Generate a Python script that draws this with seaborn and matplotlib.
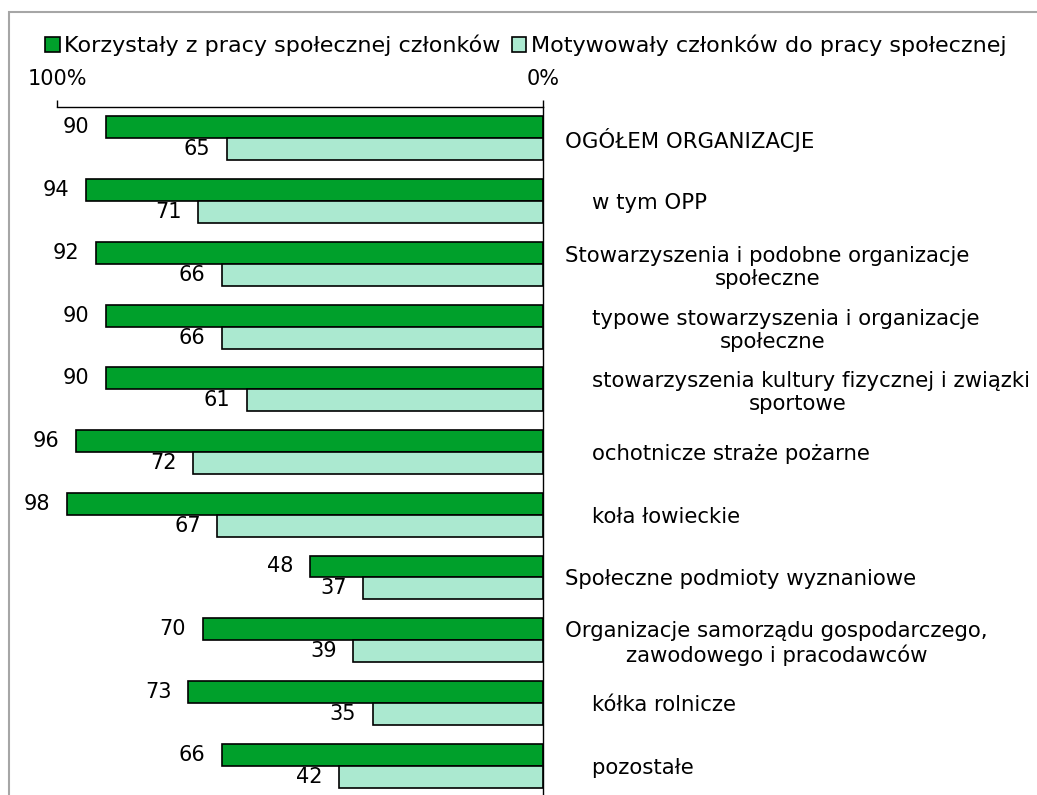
import matplotlib
matplotlib.use("Agg")
import matplotlib.pyplot as plt
import seaborn as sns
import pandas as pd

# values
categories = [
    "OGÓŁEM ORGANIZACJE",
    "    w tym OPP",
    "Stowarzyszenia i podobne organizacje\nspołeczne",
    "    typowe stowarzyszenia i organizacje\nspołeczne",
    "    stowarzyszenia kultury fizycznej i związki\nsportowe",
    "    ochotnicze straże pożarne",
    "    koła łowieckie",
    "Społeczne podmioty wyznaniowe",
    "Organizacje samorządu gospodarczego,\nzawodowego i pracodawców",
    "    kółka rolnicze",
    "    pozostałe",
]
series_names = ["Korzystały z pracy społecznej członków",
                "Motywowały członków do pracy społecznej"]
korzystaly = [90, 94, 92, 90, 90, 96, 98, 48, 70, 73, 66]
motywowaly = [65, 71, 66, 66, 61, 72, 67, 37, 39, 35, 42]
tick_vals = [100, 0]
tick_labels = ["100%", "0%"]

colors = ["#00A02B", "#ABE9D0"]

df = pd.DataFrame({
    "kategoria": categories * 2,
    "seria": [series_names[0]] * len(categories) + [series_names[1]] * len(categories),
    "procent": korzystaly + motywowaly,
})

sns.set_style("white")
plt.rcParams["font.family"] = ["DejaVu Sans"]
plt.rcParams["text.color"] = "black"
plt.rcParams["xtick.color"] = "black"
plt.rcParams["ytick.color"] = "black"

fig = plt.figure(figsize=(10.37, 7.95), dpi=100)
ax = fig.add_axes([57 / 1037, 1 - 797 / 795, 486 / 1037, 690 / 795])

sns.barplot(data=df, y="kategoria", x="procent", hue="seria", order=categories,
            hue_order=series_names, palette=colors, saturation=1, orient="h",
            width=0.7, edgecolor="black", linewidth=1.2, ax=ax)

ax.set_xlim(100, 0)
for cont in ax.containers:
    ax.bar_label(cont, fmt="%d", padding=12, fontsize=15, color="black")

ax.xaxis.tick_top()
ax.set_xticks(tick_vals)
ax.set_xticklabels(tick_labels, fontsize=15)
ax.tick_params(axis="x", direction="out", length=5, width=1, pad=8)
ax.yaxis.tick_right()
ax.tick_params(axis="y", length=0, pad=16, labelsize=15.3)
plt.setp(ax.get_yticklabels(), multialignment="center", ha="left")
ax.set_xlabel("")
ax.set_ylabel("")
for s in ["left", "bottom"]:
    ax.spines[s].set_visible(False)
for s in ["top", "right"]:
    ax.spines[s].set_color("black")
    ax.spines[s].set_linewidth(1)

sns.move_legend(ax, loc="center", bbox_to_anchor=(0.507, 0.943),
                bbox_transform=fig.transFigure, ncol=2, frameon=False, title=None,
                fontsize=16, handlelength=0.65, handleheight=0.65,
                handletextpad=0.2, columnspacing=0.5)

# outer chart frame (cut at right and bottom like in the screenshot)
frame = plt.Rectangle((9 / 1037, -0.1), 1.2, 1.1 - 12 / 795, transform=fig.transFigure,
                      fill=False, edgecolor="#A6A6A6", linewidth=1.5)
fig.add_artist(frame)

fig.savefig("out.png", dpi=100)
